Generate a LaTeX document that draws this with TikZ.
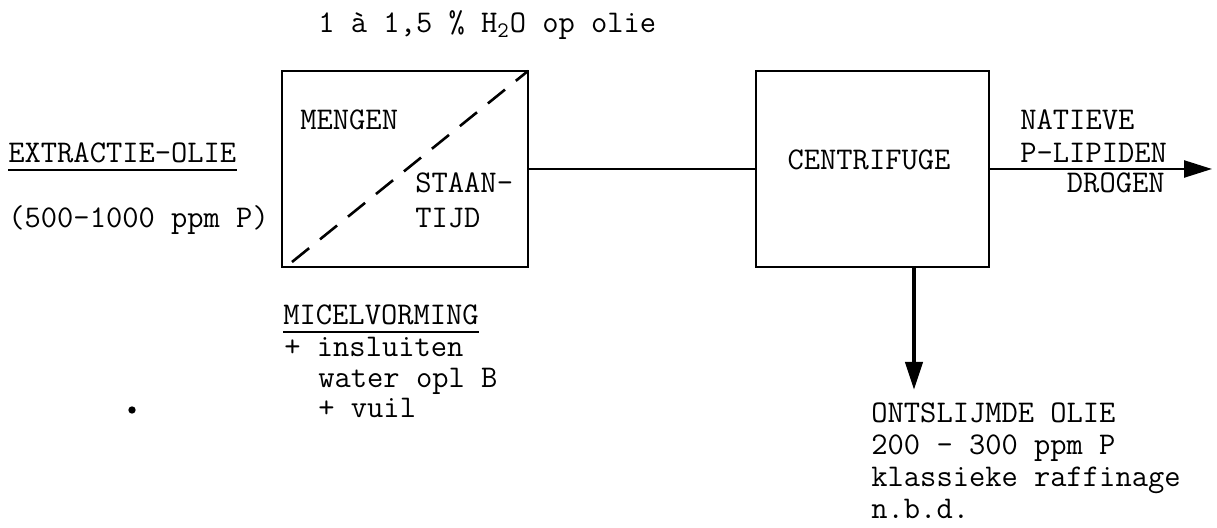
\documentclass[tikz,border=0pt]{standalone}
\usepackage{fontspec}
\usetikzlibrary{arrows.meta, positioning, calc}
\tikzset{
  % processtap (rechthoek)
  procbox/.style={draw=black, line width=1.2pt, minimum width=#1, minimum height=98pt,
    inner sep=0pt, outer sep=0pt},
  % getypte tekst
  lbl/.style={font=\ttfamily\fontsize{15.8}{17}\selectfont, inner sep=0pt, anchor=base west},
  % stroomlijnen
  flow/.style={line width=1.2pt},
  flowarr/.style={line width=1.2pt, -{Triangle[length=14pt, width=8.5pt]}},
  dashline/.style={line width=1.3pt, dash pattern=on 11pt off 7pt},
  % onderstreping
  uline/.style={line width=0.9pt},
}
\begin{document}
\begin{tikzpicture}[x=0.5pt, y=-0.5pt]
  \useasboundingbox (0,0) rectangle (1217,528);
  \node[lbl] (dosering) at (318,33) {1 à 1,5 \% H\textsubscript{2}O op olie};
  \node[procbox=123pt] (meng) at (405,169) {};
  \node[procbox=116.5pt] (centr) at (872.5,169) {};
  \draw[dashline] ([shift={(10,-5)}]meng.south west) -- (meng.north east);
  \node[lbl] (mengen) at (300,130) {MENGEN};
  \node[lbl] (staan) at (415,193) {STAAN-};
  \node[lbl] (tijd) at (415,228) {TIJD};
  \node[lbl, anchor=base] (centrtxt) at (869,170) {CENTRIFUGE};
  \node[lbl] (extr) at (8,163) {EXTRACTIE-OLIE};
  \node[lbl] (ppm) at (8,228) {(500-1000 ppm P)};
  \node[lbl] (nat) at (1020,130) {NATIEVE};
  \node[lbl] (plip) at (1020,163) {P-LIPIDEN};
  \node[lbl, anchor=base east] (drog) at (1165,193) {DROGEN};
  \node[lbl] (micel) at (283,325) {MICELVORMING};
  \node[lbl] (insl) at (284,357) {+ insluiten};
  \node[lbl] (water) at (318,388) {water opl B};
  \node[lbl] (vuil) at (318,418) {+ vuil};
  \node[lbl] (onts) at (871,423) {ONTSLIJMDE OLIE};
  \node[lbl] (onts2) at (871,455) {200 - 300 ppm P};
  \node[lbl] (onts3) at (871,487) {klassieke raffinage};
  \node[lbl] (onts4) at (871,519) {n.b.d.};
  \node[circle, fill, inner sep=1.3pt] (punt) at (132,410) {};
  \coordinate (uit) at (1212,169);
  \coordinate (neer) at (914,390);
  \draw[flow] (meng.east) -- (centr.west);
  \draw[flowarr] (centr.east) -- (uit);
  \draw[flowarr, line width=2pt] (centr.south -| neer) -- (neer);
  \draw[uline] ([yshift=-3.5pt]extr.base west) -- ([yshift=-3.5pt]extr.base east);
  \draw[uline] ([yshift=-3.5pt]micel.base west) -- ([yshift=-3.5pt]micel.base east);
\end{tikzpicture}
\end{document}
